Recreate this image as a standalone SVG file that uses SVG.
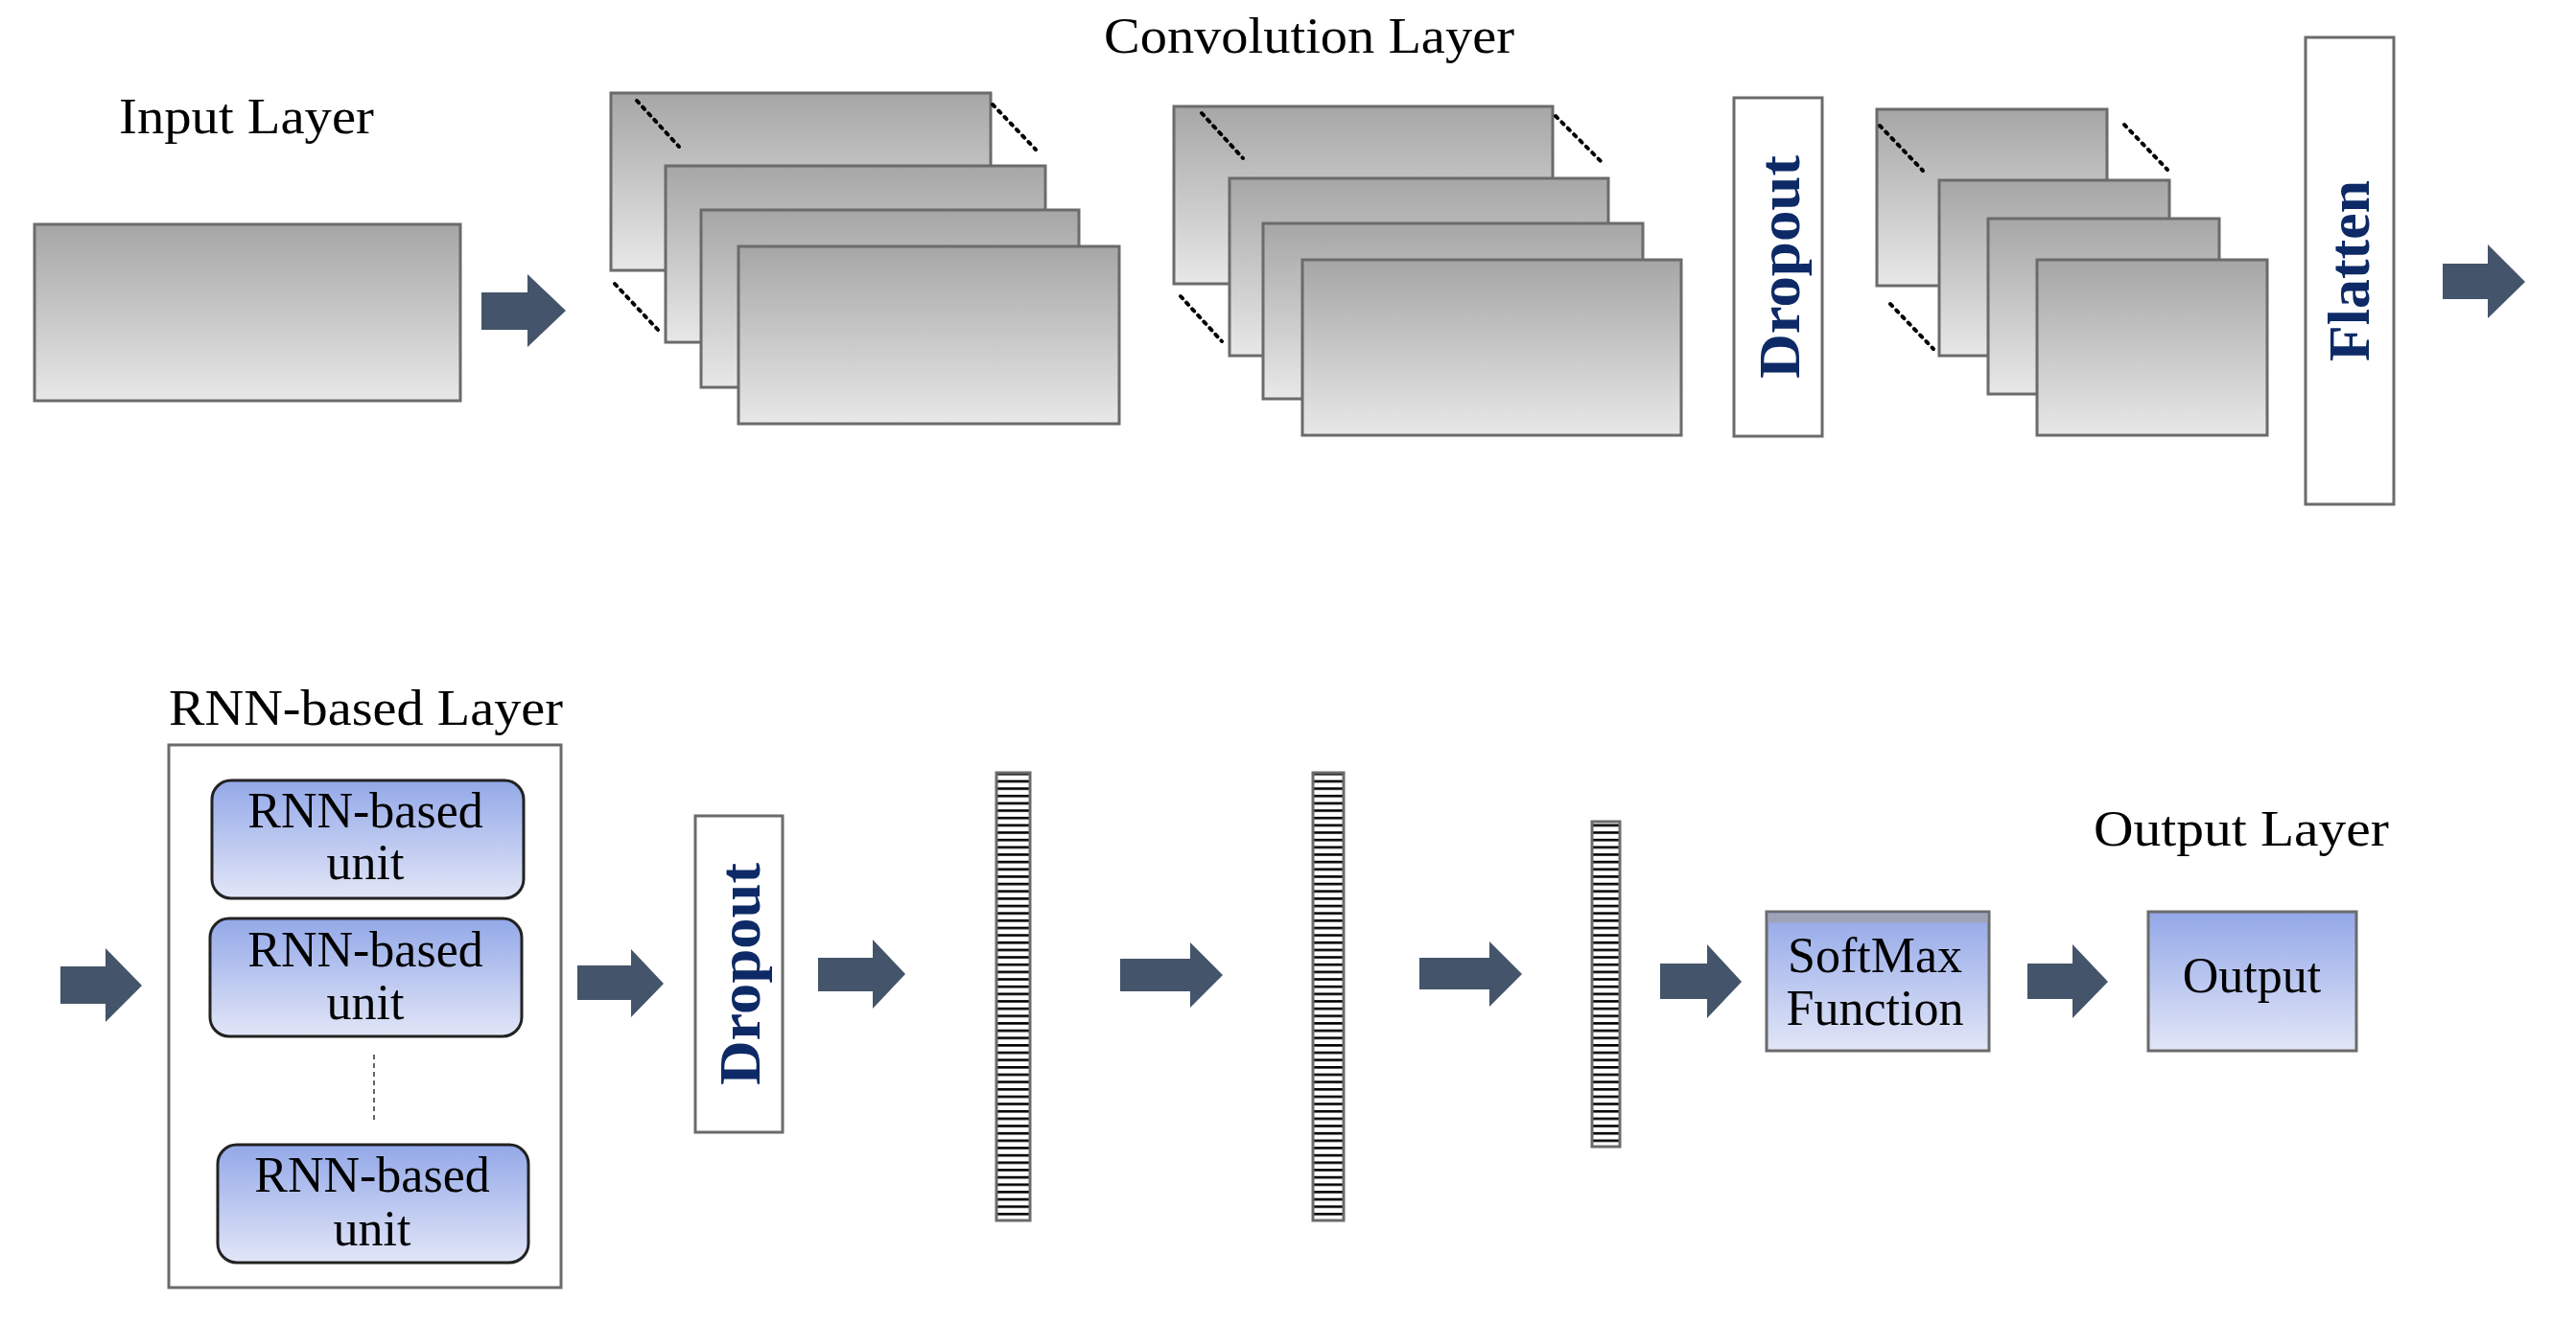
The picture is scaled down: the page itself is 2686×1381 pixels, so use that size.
<svg xmlns="http://www.w3.org/2000/svg" width="2686" height="1381" viewBox="0 0 2686 1381">
<defs>
<linearGradient id="g" x1="0" y1="0" x2="0" y2="1"><stop offset="0" stop-color="#a6a6a6"/><stop offset="1" stop-color="#e8e8e8"/></linearGradient>
<linearGradient id="b" x1="0" y1="0" x2="0" y2="1"><stop offset="0" stop-color="#93a8e8"/><stop offset="1" stop-color="#e2e6f7"/></linearGradient>
<pattern id="st" x="0" y="806" width="10" height="7.65" patternUnits="userSpaceOnUse"><rect width="10" height="7.65" fill="#fff"/><rect y="0" width="10" height="2.6" fill="#000"/></pattern>
<style>
.g{fill:url(#g);stroke:#6b6b6b;stroke-width:3}
.w{fill:#fff;stroke:#6b6b6b;stroke-width:3}
.u{fill:url(#b);stroke:#222;stroke-width:3}
.bx{fill:url(#b);stroke:#6b6b6b;stroke-width:3}
.d{stroke:#000;stroke-width:4;stroke-dasharray:3 6;stroke-linecap:round}
.t{font-family:"Liberation Serif",serif;fill:#000;font-size:52px}
.n{font-family:"Liberation Serif",serif;fill:#0d2a66;font-weight:bold;font-size:62px}
.a{fill:#44546a}
.bar{fill:url(#st);stroke:#6b6b6b;stroke-width:3}
</style>
</defs>
<rect width="2686" height="1381" fill="#fff"/>
<text class="t" x="1151" y="55" textLength="428" lengthAdjust="spacingAndGlyphs">Convolution Layer</text>
<g id="input"><text class="t" x="124" y="139" textLength="266" lengthAdjust="spacingAndGlyphs">Input Layer</text>
<rect class="g" x="36" y="234" width="444" height="184"/></g>
<g id="conv1">
<rect class="g" x="637" y="97" width="396" height="185"/>
<rect class="g" x="694" y="173" width="396" height="184"/>
<rect class="g" x="731" y="219" width="394" height="185"/>
<rect class="g" x="770" y="257" width="397" height="185"/>
<line class="d" x1="664" y1="105" x2="708" y2="153"/><line class="d" x1="1035" y1="109" x2="1080" y2="156"/><line class="d" x1="641" y1="296" x2="686" y2="344"/>
</g>
<g id="conv2">
<rect class="g" x="1224" y="111" width="395" height="185"/>
<rect class="g" x="1282" y="186" width="395" height="185"/>
<rect class="g" x="1317" y="233" width="396" height="183"/>
<rect class="g" x="1358" y="271" width="395" height="183"/>
<line class="d" x1="1253" y1="118" x2="1296" y2="165"/><line class="d" x1="1622" y1="121" x2="1669" y2="168"/><line class="d" x1="1231" y1="309" x2="1274" y2="356"/>
</g>
<g id="dropout1"><rect class="w" x="1808" y="102" width="92" height="353"/>
<text class="n" transform="translate(1876,395) rotate(-90)" textLength="233" lengthAdjust="spacingAndGlyphs">Dropout</text></g>
<g id="conv3">
<rect class="g" x="1957" y="114" width="240" height="184"/>
<rect class="g" x="2022" y="188" width="240" height="183"/>
<rect class="g" x="2073" y="228" width="241" height="183"/>
<rect class="g" x="2124" y="271" width="240" height="183"/>
<line class="d" x1="1960" y1="131" x2="2005" y2="178"/><line class="d" x1="2215" y1="130" x2="2260" y2="177"/><line class="d" x1="1971" y1="317" x2="2016" y2="364"/>
</g>
<g id="flatten"><rect class="w" x="2404" y="39" width="92" height="487"/>
<text class="n" transform="translate(2470,377) rotate(-90)" textLength="189" lengthAdjust="spacingAndGlyphs">Flatten</text></g>
<g id="rnn"><text class="t" x="176" y="756" textLength="411" lengthAdjust="spacingAndGlyphs">RNN-based Layer</text>
<rect class="w" x="176" y="777" width="409" height="566"/>
<line x1="390" y1="1100" x2="390" y2="1171" stroke="#333" stroke-width="1.5" stroke-dasharray="5 4"/></g>
<g id="unit1"><rect class="u" x="221" y="814" width="325" height="123" rx="20"/>
<text class="t" x="381" y="863" text-anchor="middle">RNN-based</text><text class="t" x="381" y="917" text-anchor="middle">unit</text></g>
<g id="unit2"><rect class="u" x="219" y="958" width="325" height="123" rx="20"/>
<text class="t" x="381" y="1008" text-anchor="middle">RNN-based</text><text class="t" x="381" y="1063" text-anchor="middle">unit</text></g>
<g id="unit3"><rect class="u" x="227" y="1194" width="324" height="123" rx="20"/>
<text class="t" x="388" y="1243" text-anchor="middle">RNN-based</text><text class="t" x="388" y="1299" text-anchor="middle">unit</text></g>
<g id="dropout2"><rect class="w" x="725" y="851" width="91" height="330"/>
<text class="n" transform="translate(792,1132) rotate(-90)" textLength="232" lengthAdjust="spacingAndGlyphs">Dropout</text></g>
<g id="dense1"><rect class="bar" x="1039" y="806" width="35" height="467"/></g>
<g id="dense2"><rect class="bar" x="1369" y="806" width="32" height="467"/></g>
<g id="dense3"><rect class="bar" x="1660" y="857" width="29" height="339"/></g>
<g id="softmax"><rect class="bx" x="1842" y="951" width="232" height="145"/>
<rect x="1843.5" y="952.5" width="229" height="10" fill="#9ea3b8"/>
<text class="t" x="1955" y="1014" text-anchor="middle">SoftMax</text><text class="t" x="1955" y="1069" text-anchor="middle">Function</text></g>
<g id="output"><text class="t" x="2183" y="882" textLength="308" lengthAdjust="spacingAndGlyphs">Output Layer</text>
<rect class="bx" x="2240" y="951" width="217" height="145"/>
<text class="t" x="2348" y="1035" text-anchor="middle" font-size="56">Output</text></g>
<g id="connectors">
<polygon class="a" points="502,305 550,305 550,286 590,324 550,362 550,344 502,344"/>
<polygon class="a" points="2547,275 2594,275 2594,255 2633,294 2594,332 2594,312 2547,312"/>
<polygon class="a" points="63,1008 110,1008 110,989 148,1028 110,1066 110,1047 63,1047"/>
<polygon class="a" points="602,1007 658,1007 658,990 692,1026 658,1061 658,1043 602,1043"/>
<polygon class="a" points="853,999 910,999 910,980 944,1016 910,1052 910,1034 853,1034"/>
<polygon class="a" points="1168,1000 1241,1000 1241,983 1275,1017 1241,1051 1241,1034 1168,1034"/>
<polygon class="a" points="1480,999 1553,999 1553,982 1587,1016 1553,1050 1553,1032 1480,1032"/>
<polygon class="a" points="1731,1005 1780,1005 1780,985 1816,1024 1780,1062 1780,1042 1731,1042"/>
<polygon class="a" points="2114,1005 2161,1005 2161,985 2198,1024 2161,1062 2161,1042 2114,1042"/>
</g>
</svg>
